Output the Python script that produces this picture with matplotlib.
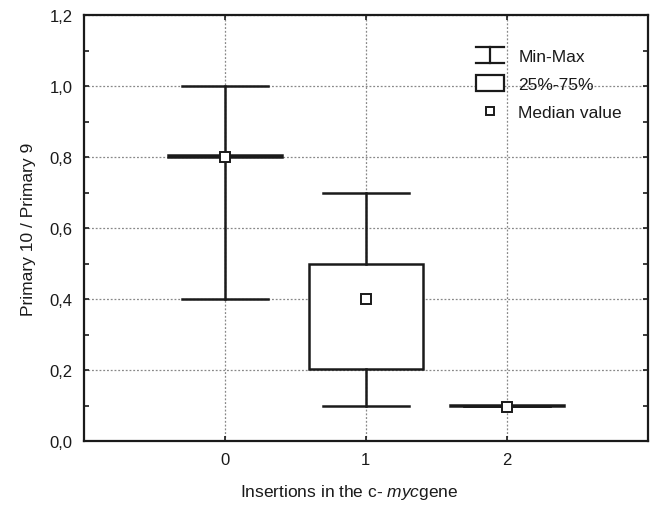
import matplotlib
matplotlib.use("Agg")
import matplotlib.pyplot as plt
from matplotlib.legend_handler import HandlerBase
from matplotlib.lines import Line2D
from matplotlib.patches import Rectangle
from matplotlib.ticker import MultipleLocator, FuncFormatter

plt.rcParams['font.family'] = ['Liberation Sans', 'DejaVu Sans']
plt.rcParams['mathtext.fontset'] = 'custom'
plt.rcParams['mathtext.it'] = 'Liberation Sans:italic'
plt.rcParams['mathtext.rm'] = 'Liberation Sans'

# Data
categories = ["0", "1", "2"]
mins = [0.40, 0.10, 0.10]
q1s = [0.800, 0.203, 0.100]
medians = [0.800, 0.400, 0.097]
q3s = [0.805, 0.500, 0.102]
maxs = [1.00, 0.70, 0.10]
legend_labels = ["Min-Max", "25%-75%", "Median value"]

fig = plt.figure(figsize=(6.51, 5.06), dpi=100)
ax = fig.add_axes([0.129, 0.1265, 0.866, 0.8415])

positions = list(range(len(categories)))
stats = []
for lo, a, m, b, hi in zip(mins, q1s, medians, q3s, maxs):
    stats.append(dict(whislo=lo, q1=a, med=m, q3=b, whishi=hi, fliers=[]))

ax.bxp(stats, positions=positions, widths=0.81, capwidths=0.61,
       patch_artist=True, showfliers=False,
       boxprops=dict(facecolor='white', edgecolor='#1a1a1a', linewidth=1.8),
       whiskerprops=dict(color='#1a1a1a', linewidth=1.8),
       capprops=dict(color='#1a1a1a', linewidth=1.8),
       medianprops=dict(linewidth=0),
       zorder=3)
ax.plot(positions, medians, linestyle='none', marker='s', markersize=6.5,
        markerfacecolor='white', markeredgecolor='#1a1a1a', markeredgewidth=1.4,
        zorder=5)

ax.set_xlim(-1, 3)
ax.set_ylim(0, 1.2)
ax.set_xticks(positions)
ax.set_xticklabels(categories)
ax.yaxis.set_major_locator(MultipleLocator(0.2))
ax.yaxis.set_minor_locator(MultipleLocator(0.1))
ax.yaxis.set_major_formatter(FuncFormatter(lambda v, p: f"{v:.1f}".replace('.', ',')))

ax.tick_params(axis='both', which='both', direction='in', top=True, right=True,
               labelsize=12, color='#1a1a1a', width=1.2, labelcolor='#1a1a1a')
ax.tick_params(axis='y', which='both', length=3.5, pad=8)
ax.tick_params(axis='x', which='major', length=3.5, pad=8)
ax.tick_params(axis='x', which='minor', length=0)

ax.grid(True, which='major', linestyle=(0, (1.5, 1.5)), color='#888888', linewidth=0.9, zorder=0)
ax.set_axisbelow(True)
for s in ax.spines.values():
    s.set_linewidth(1.6)
    s.set_color('#1a1a1a')

ax.set_ylabel("Primary 10 / Primary 9", fontsize=12.5, labelpad=10, color='#1a1a1a')
ax.set_xlabel(r"Insertions in the c- $\mathit{myc}$gene", fontsize=12.5, labelpad=11, color='#1a1a1a')
ax.xaxis.label.set_x(0.47)


class MinMaxHandler(HandlerBase):
    def create_artists(self, legend, orig_handle, xdescent, ydescent, width, height, fontsize, trans):
        cx = width / 2 - xdescent
        y0 = -ydescent - 1.5
        y1 = height - ydescent + 1.5
        lw = 1.6
        arts = [
            Line2D([cx, cx], [y0, y1], color='#1a1a1a', lw=lw, transform=trans),
            Line2D([0 - xdescent, width - xdescent], [y0, y0], color='#1a1a1a', lw=lw, transform=trans),
            Line2D([0 - xdescent, width - xdescent], [y1, y1], color='#1a1a1a', lw=lw, transform=trans),
        ]
        return arts


class BoxHandler(HandlerBase):
    def create_artists(self, legend, orig_handle, xdescent, ydescent, width, height, fontsize, trans):
        r = Rectangle((-xdescent, -ydescent - 1.5), width, height + 3, facecolor='white',
                      edgecolor='#1a1a1a', lw=1.6, transform=trans)
        return [r]


h1 = object.__new__(type("MinMaxH", (), {}))
h2 = object.__new__(type("BoxH", (), {}))
h3 = Line2D([], [], linestyle='none', marker='s', markersize=6,
            markerfacecolor='white', markeredgecolor='#1a1a1a', markeredgewidth=1.4)
leg = ax.legend([h1, h2, h3], legend_labels,
                handler_map={type(h1): MinMaxHandler(), type(h2): BoxHandler()},
                loc='upper left', bbox_to_anchor=(0.667, 0.958), frameon=False,
                fontsize=12.5, handlelength=1.65, handletextpad=0.8, labelspacing=0.75)
for t in leg.get_texts():
    t.set_color('#1a1a1a')

fig.savefig("out.png", dpi=100)
